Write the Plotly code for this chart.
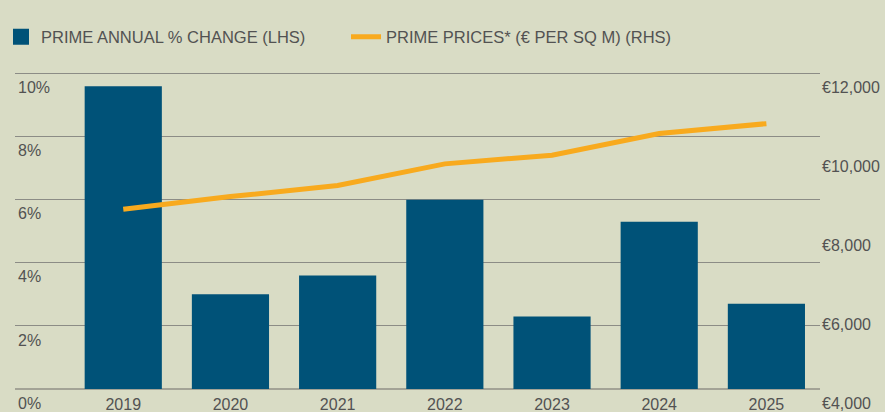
import plotly.graph_objects as go

years = ["2019", "2020", "2021", "2022", "2023", "2024", "2025"]
annual_change = [9.6, 3.0, 3.6, 6.0, 2.3, 5.3, 2.7]          # % (LHS)
prime_prices = [8560, 8880, 9160, 9710, 9930, 10480, 10730]  # EUR per sq m (RHS)

left_ticks = [0, 2, 4, 6, 8, 10]
left_labels = ["0%", "2%", "4%", "6%", "8%", "10%"]
right_ticks = [4000, 6000, 8000, 10000, 12000]
right_labels = ["€4,000", "€6,000", "€8,000", "€10,000", "€12,000"]

bar_name = "PRIME ANNUAL % CHANGE (LHS)"
line_name = "PRIME PRICES* (€ PER SQ M) (RHS)"

BG = "#d9dcc5"
BLUE = "#005278"
ORANGE = "#f8aa1e"
TXT = "#525252"
FONT = "Liberation Sans"

# plot area: top gridline (10%) at y=74px, baseline at y=389px
TOP_PAD = 0.05  # small headroom so the 10% gridline is not clipped at the edge

fig = go.Figure()

fig.add_trace(go.Bar(
    x=years, y=annual_change, name=bar_name, marker_color=BLUE,
    marker_line_width=0, showlegend=False, yaxis="y",
))
fig.add_trace(go.Scatter(
    x=[None], y=[None], mode="markers", name=bar_name,
    marker=dict(symbol="square", size=16, color=BLUE), showlegend=True,
))
fig.add_trace(go.Scatter(
    x=years, y=prime_prices, name=line_name, mode="lines",
    line=dict(color=ORANGE, width=5), yaxis="y2",
))

px_per_unit = 315 / 10
top_margin = 74 - TOP_PAD * px_per_unit

fig.update_layout(
    width=885, height=412,
    paper_bgcolor=BG, plot_bgcolor=BG,
    margin=dict(l=15, r=65, t=top_margin, b=23, autoexpand=False),
    font=dict(family=FONT, size=16, color=TXT),
    bargap=0.28,
    showlegend=True,
    legend=dict(
        orientation="h", xref="container", x=1 / 885, xanchor="left",
        yref="container", y=1 - 37 / 412, yanchor="middle",
        font=dict(family=FONT, size=16.5, color=TXT),
        bgcolor="rgba(0,0,0,0)", entrywidth=300, entrywidthmode="pixels",
        traceorder="normal",
    ),
    xaxis=dict(
        type="category", range=[-1.01, 6.5], showgrid=False, zeroline=False,
        showline=False, ticks="", ticklabelstandoff=4,
        tickfont=dict(family=FONT, size=16, color=TXT),
    ),
    yaxis=dict(
        range=[0, 10 + TOP_PAD], tickvals=left_ticks, ticktext=left_labels,
        showgrid=True, gridcolor="#8c8c86", gridwidth=1,
        zeroline=True, zerolinecolor="#a3a396", zerolinewidth=2,
        showline=False, ticks="", ticklabelposition="inside",
        ticklabelshift=14, ticklabelstandoff=0, ticklabeloverflow="allow",
        tickfont=dict(family=FONT, size=16, color=TXT),
    ),
    yaxis2=dict(
        range=[4000, 12000 + TOP_PAD * 800], tickvals=right_ticks, ticktext=right_labels,
        overlaying="y", side="right", showgrid=False, zeroline=False,
        showline=False, ticks="", ticklabelshift=14, ticklabelstandoff=1,
        ticklabeloverflow="allow",
        tickfont=dict(family=FONT, size=16, color=TXT),
    ),
)

fig.write_html(
    "out.html",
    config={"displayModeBar": False},
    post_script=(
        "document.body.style.margin='0px';"
        "document.body.style.background='" + BG + "';"
        "document.body.style.overflow='hidden';"
    ),
)
